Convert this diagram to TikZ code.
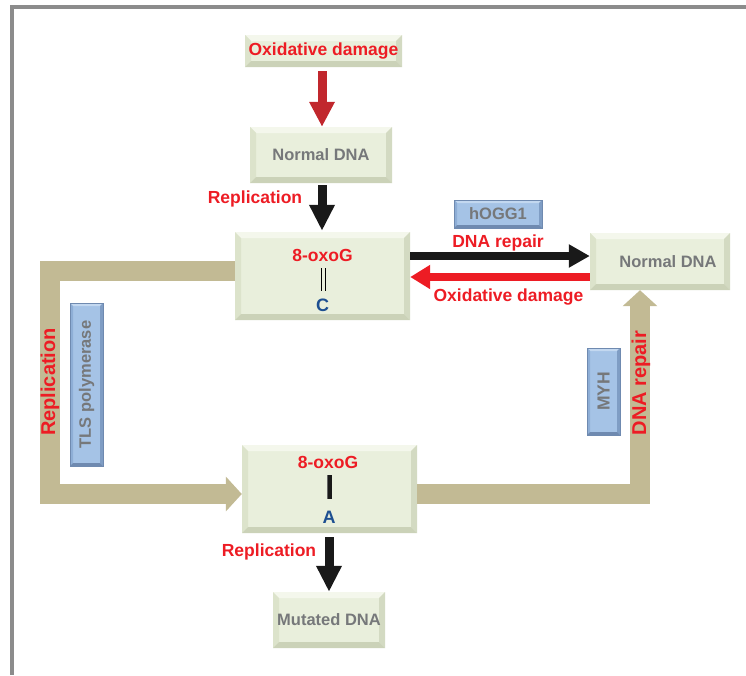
\documentclass[tikz,border=0pt]{standalone}
\usepackage{fontspec}
\setmainfont{Liberation Sans}
\usetikzlibrary{arrows.meta}
\definecolor{gfill}{HTML}{E9EFDC}
\definecolor{gtop}{HTML}{F4F7EC}
\definecolor{gleft}{HTML}{DCE3CB}
\definecolor{gright}{HTML}{D3DAC2}
\definecolor{gbot}{HTML}{CBD2B8}
\definecolor{bfill}{HTML}{A5C3E6}
\definecolor{btop}{HTML}{C3D8F0}
\definecolor{bleft}{HTML}{8EAED6}
\definecolor{bright}{HTML}{7F9DC4}
\definecolor{bbot}{HTML}{6F8AB0}
\definecolor{redtxt}{HTML}{ED1C24}
\definecolor{darkred}{HTML}{C1272D}
\definecolor{graytxt}{HTML}{76787A}
\definecolor{bluetxt}{HTML}{1D4F91}
\definecolor{tanarrow}{HTML}{C2BA94}
\definecolor{framegray}{HTML}{8C8C8C}
\newcommand\bevelpic[5]{%
  \path (path picture bounding box.north west) coordinate (pnw)
        (path picture bounding box.north east) coordinate (pne)
        (path picture bounding box.south west) coordinate (psw)
        (path picture bounding box.south east) coordinate (pse);
  \fill[#1] (pnw) -- (pne) -- ([shift={(-#5,-#5)}]pne) -- ([shift={(#5,-#5)}]pnw) -- cycle;
  \fill[#2] (pnw) -- (psw) -- ([shift={(#5,#5)}]psw) -- ([shift={(#5,-#5)}]pnw) -- cycle;
  \fill[#3] (pne) -- (pse) -- ([shift={(-#5,#5)}]pse) -- ([shift={(-#5,-#5)}]pne) -- cycle;
  \fill[#4] (psw) -- (pse) -- ([shift={(-#5,#5)}]pse) -- ([shift={(#5,#5)}]psw) -- cycle;
}
\tikzset{
  gbox/.style={fill=gfill, inner sep=0pt, path picture={\bevelpic{gtop}{gleft}{gright}{gbot}{6pt}}},
  bbox/.style={fill=bfill, draw=bbot, line width=0.6pt, inner sep=0pt, path picture={\bevelpic{btop}{bleft}{bright}{bbot}{3pt}}},
  redlab/.style={text=redtxt, font=\bfseries\fontsize{17.5}{20}\selectfont, inner sep=0pt},
  bigred/.style={text=redtxt, font=\bfseries\fontsize{20}{23}\selectfont, inner sep=0pt},
  graylab/.style={text=graytxt, font=\bfseries\fontsize{16.5}{19}\selectfont, inner sep=0pt},
  baselab/.style={text=bluetxt, font=\bfseries\fontsize{18}{20}\selectfont, inner sep=0pt},
  vblack/.style={draw=black!90, line width=9pt, -{Triangle[width=24pt,length=26pt]}},
  hblack/.style={draw=black!90, line width=8.5pt, -{Triangle[width=22pt,length=21pt]}},
  hred/.style={draw=redtxt, line width=8pt, -{Triangle[width=23pt,length=20pt]}},
  vdarkred/.style={draw=darkred, line width=9pt, -{Triangle[width=24pt,length=25pt]}},
  tanarr/.style={draw=tanarrow, line width=20pt, line join=miter, -{Triangle[width=34pt,length=16pt]}},
}
\begin{document}
\begin{tikzpicture}[x=1pt,y=-1pt]
\useasboundingbox (0,0) rectangle (746,675);
\draw[framegray, line width=4pt, line join=miter] (746,7) -- (12,7) -- (12,675);

% boxes
\node[gbox, minimum width=157pt, minimum height=32pt, redlab] (ox) at (323.5,51) {Oxidative damage};
\node[gbox, minimum width=142pt, minimum height=56pt, graylab] (nd1) at (321,155) {Normal DNA};
\node[gbox, minimum width=175pt, minimum height=88pt] (cbox) at (322.5,276) {};
\node[gbox, minimum width=140pt, minimum height=57pt] (nd2) at (660,261.5) {};
\node[graylab] (nd2t) at (668,262) {Normal DNA};
\node[gbox, minimum width=175pt, minimum height=88pt] (abox) at (329.5,489) {};
\node[gbox, minimum width=112pt, minimum height=56pt, graylab] (mut) at (329,620) {Mutated DNA};

% box contents
\node[redlab] (c8) at (322.5,255) {8-oxoG};
\draw[black, line width=1.6pt] (321.3,268) -- (321.3,291);
\draw[black, line width=1.6pt] (325.3,268) -- (325.3,291);
\node[baselab] (cC) at (322.5,305) {C};
\node[redlab] (a8) at (328,462) {8-oxoG};
\draw[black!60, line width=5pt] (329.2,475) -- (329.2,499);
\draw[black!90, line width=3.5pt] (330,475) -- (330,499);
\node[baselab] (aA) at (329,517) {A};

% enzyme boxes
\node[bbox, minimum width=88pt, minimum height=28pt, graylab] (hogg) at (498,214) {hOGG1};
\node[bbox, minimum width=33pt, minimum height=163pt] (tls) at (86.5,384.5) {};
\node[graylab, rotate=90] (tlst) at (tls) {TLS polymerase};
\node[bbox, minimum width=33pt, minimum height=87pt] (myh) at (603.5,391.5) {};
\node[graylab, rotate=90, font=\bfseries\fontsize{17.5}{20}\selectfont] (myht) at (myh) {MYH};

% tan bent arrows
\coordinate (lt) at (50,271);
\coordinate (lb) at (50,494);
\coordinate (rb) at (640,494);
\draw[tanarr] (cbox.west |- lt) -- (lt) -- (lb) -- (abox.west |- lb);
\draw[tanarr] (abox.east |- rb) -- (rb) -- (nd2.south -| rb);

% straight arrows
\coordinate (xv) at (322,0);
\draw[vdarkred, shorten <=4pt] (ox.south -| xv) -- (nd1.north -| xv);
\draw[vblack, shorten <=2pt, shorten >=1pt] (nd1.south -| xv) -- (cbox.north -| xv);
\draw[vblack, shorten <=4pt] (abox.south -| mut.north) -- (mut.north);
\coordinate (yblack) at (0,256);
\coordinate (yred) at (0,277);
\draw[hblack] (cbox.east |- yblack) -- (nd2.west |- yblack);
\draw[hred] (nd2.west |- yred) -- (cbox.east |- yred);

% labels
\node[redlab] (rep1) at (255,199) {Replication};
\node[redlab] (rep3) at (269,552) {Replication};
\node[redlab] (dr1) at (498,243) {DNA repair};
\node[redlab] (od2) at (508.5,297.5) {Oxidative damage};
\node[bigred, rotate=90] (rep2) at (50,382) {Replication};
\node[bigred, rotate=90] (dr2) at (641,383) {DNA repair};
\end{tikzpicture}
\end{document}
